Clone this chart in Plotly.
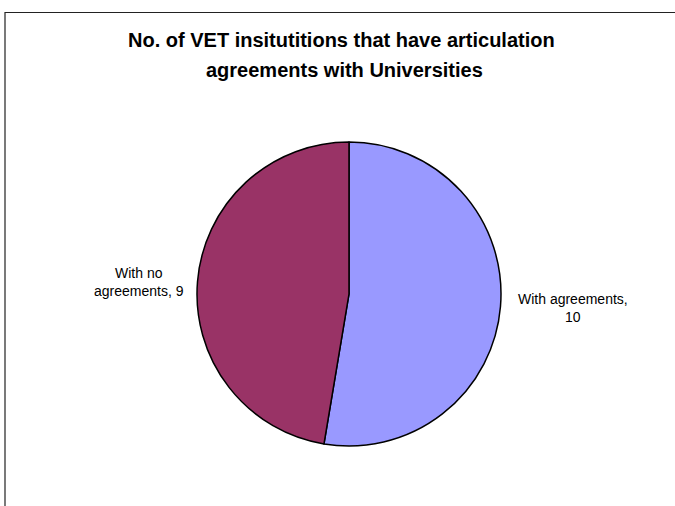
import plotly.graph_objects as go

# Survey result: VET institutions with / without university articulation agreements
labels = ["With agreements", "With no agreements"]
values = [10, 9]
colors = ["#9999FF", "#993366"]
title_lines = ["No. of VET insitutitions that have articulation",
               "agreements with Universities"]

W, H = 675, 506

fig = go.Figure(go.Pie(
    labels=labels,
    values=values,
    sort=False,
    direction="clockwise",
    rotation=0,
    textinfo="none",
    hoverinfo="label+value",
    marker=dict(colors=colors, line=dict(color="#000000", width=1.5)),
    domain=dict(x=[197 / W, 501 / W], y=[(H - 449) / H, (H - 139) / H]),
    showlegend=False,
))

font = "Liberation Sans, Arial, sans-serif"

# Title, two lines
annotations = []
for line, (xpx, ypx) in zip(title_lines, [(341, 40), (344, 70)]):
    annotations.append(dict(
        text=f"<b>{line}</b>", x=xpx / W, y=1 - ypx / H,
        xref="paper", yref="paper", xanchor="center", yanchor="middle",
        showarrow=False, font=dict(family=font, size=20, color="#000000"),
    ))

# Data labels beside each slice
label_text = [
    f"{labels[0]},<br>{values[0]}",
    f"With no<br>agreements, {values[1]}",
]
label_pos = [(573, 308), (139, 282)]
for txt, (xp, yp) in zip(label_text, label_pos):
    annotations.append(dict(
        text=txt, x=xp / W, y=1 - yp / H,
        xref="paper", yref="paper", xanchor="center", yanchor="middle",
        align="center", showarrow=False,
        font=dict(family=font, size=14, color="#000000"),
    ))

fig.update_layout(
    width=W, height=H,
    margin=dict(l=0, r=0, t=0, b=0),
    paper_bgcolor="#FFFFFF",
    plot_bgcolor="#FFFFFF",
    annotations=annotations,
    shapes=[dict(
        type="rect", xref="paper", yref="paper",
        x0=5 / W, x1=1.05, y0=-0.05, y1=1 - 12.5 / H,
        line=dict(color="#222222", width=1.2),
    )],
)

fig.write_html("out.html")
